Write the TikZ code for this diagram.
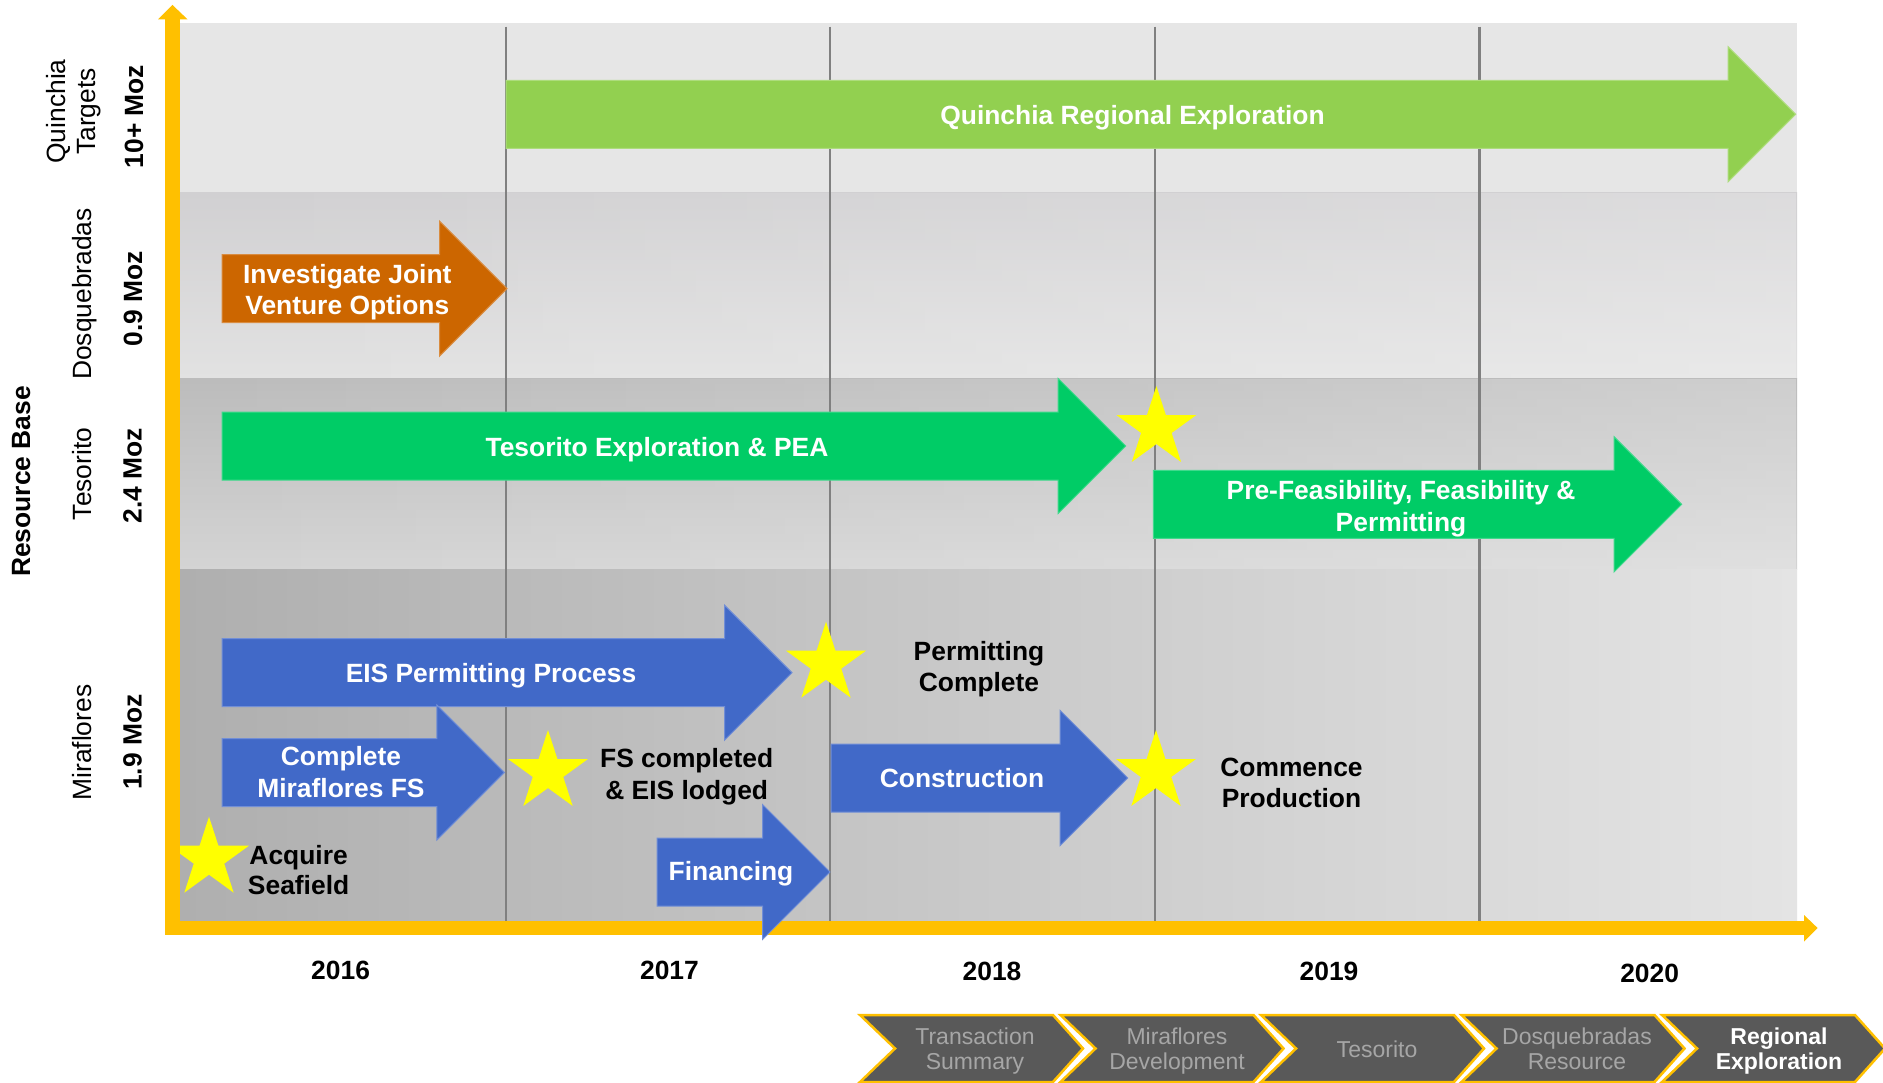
\documentclass[tikz,border=0pt]{standalone}
\usepackage{fontspec}
\setmainfont{Liberation Sans}
\usetikzlibrary{fadings}

\definecolor{axisyellow}{HTML}{FFC000}
\definecolor{gridgrey}{HTML}{808080}
\definecolor{rowq}{HTML}{E6E6E6}
\definecolor{rowdtop}{HTML}{D1D0D2}
\definecolor{rowdbot}{HTML}{E2E2E2}
\definecolor{rowttop}{HTML}{BCBCBC}
\definecolor{rowtbot}{HTML}{D4D4D4}
\definecolor{rowmleft}{HTML}{AFAFAF}
\definecolor{rowmright}{HTML}{E4E4E4}
\definecolor{qgreen}{HTML}{92D050}
\definecolor{tgreen}{HTML}{00CC66}
\definecolor{dorange}{HTML}{CC6600}
\definecolor{mblue}{HTML}{4169C8}
\definecolor{staryellow}{HTML}{FFFF00}
\definecolor{chevfill}{HTML}{595959}
\definecolor{chevtext}{HTML}{A6A6A6}

\tikzfading[name=brighten right, left color=transparent!100, right color=transparent!0]

% block arrow: x start, x of tip, y of centre line, colour
\newcommand\blockarrow[4]{%
  \fill[#4, draw=#4!75!white, line width=1pt]
    (#1,#3-34) -- (#2-67.5,#3-34) -- (#2-67.5,#3-67.5) -- (#2,#3)
    -- (#2-67.5,#3+67.5) -- (#2-67.5,#3+34) -- (#1,#3+34) -- cycle;}

% five-pointed milestone star: name, x, y of centre
\newcommand\milestar[3]{%
  \coordinate (#1) at (#2,#3);
  \fill[staryellow, shift={(#1)}]
    (canvas polar cs:angle=90,radius=42pt) -- (canvas polar cs:angle=126,radius=16.04pt)
    -- (canvas polar cs:angle=162,radius=42pt) -- (canvas polar cs:angle=198,radius=16.04pt)
    -- (canvas polar cs:angle=234,radius=42pt) -- (canvas polar cs:angle=270,radius=16.04pt)
    -- (canvas polar cs:angle=306,radius=42pt) -- (canvas polar cs:angle=342,radius=16.04pt)
    -- (canvas polar cs:angle=18,radius=42pt) -- (canvas polar cs:angle=54,radius=16.04pt)
    -- cycle;}

% chevron of the section bar: left x
\newcommand\chevron[1]{%
  \filldraw[chevfill, draw=axisyellow, line width=2.5pt, line join=miter]
    (#1,1015) -- (#1+193,1015) -- (#1+223,1048.5) -- (#1+193,1082)
    -- (#1,1082) -- (#1+35,1048.5) -- cycle;}

\begin{document}
\begin{tikzpicture}[x=1pt, y=-1pt,
  every node/.style={inner sep=0pt, outer sep=0pt},
  arrowtext/.style={font=\bfseries\fontsize{26.4}{31.7}\selectfont, text=white, anchor=base},
  notetext/.style={font=\bfseries\fontsize{26.4}{31.7}\selectfont, text=black, anchor=base},
  rowname/.style={font=\fontsize{26.4}{31.7}\selectfont, text=black, rotate=90, anchor=base},
  rowsize/.style={font=\bfseries\fontsize{26.4}{31.7}\selectfont, text=black, rotate=90, anchor=base},
  phasetext/.style={font=\fontsize{23}{25}\selectfont, text=chevtext, anchor=base},
  phasecurrent/.style={font=\bfseries\fontsize{23}{25}\selectfont, text=white, anchor=base},
  gridline/.style={draw=gridgrey, line width=2.5pt}]

\useasboundingbox[fill=white] (0,0) rectangle (1883,1083);

% ---- row bands ----
\fill[rowq] (180,22.7) rectangle (1797,192.7);
\shade[top color=rowdtop, bottom color=rowdbot] (180,192.7) rectangle (1797,379);
\fill[white, path fading=brighten right, fill opacity=0.25] (180,192.7) rectangle (1797,379);
\shade[top color=rowttop, bottom color=rowtbot] (180,379) rectangle (1797,569.5);
\fill[white, path fading=brighten right, fill opacity=0.28] (180,379) rectangle (1797,569.5);
\shade[left color=rowmleft, right color=rowmright] (180,569.5) rectangle (1797,921);

% ---- year dividers ----
\foreach \gx in {506,830,1155,1479.5}
  \draw[gridline] (\gx,26.7) -- (\gx,921);

% ---- milestones ----
\milestar{acquire}{209}{858.7}
\milestar{fsdone}{548}{772}
\milestar{permitdone}{826}{663.7}
\milestar{production}{1156}{772}
\milestar{pea}{1156.4}{428}

% ---- axes ----
\fill[axisyellow] (165,19.3) rectangle (180,935);
\fill[axisyellow] (165,921) rectangle (1804,935);
\fill[axisyellow] (158,19.3) -- (172.5,5) -- (187.5,19.3) -- cycle;
\fill[axisyellow] (1804,915) -- (1817.6,928) -- (1804,941.7) -- cycle;

% ---- activity arrows ----
\blockarrow{506}{1795.6}{114.3}{qgreen}
\blockarrow{222}{507}{288.7}{dorange}
\blockarrow{222}{1125.7}{446}{tgreen}
\blockarrow{1153.4}{1681.7}{504.3}{tgreen}
\blockarrow{222}{792}{672.7}{mblue}
\blockarrow{222}{504.4}{772.5}{mblue}
\blockarrow{831}{1127.7}{778}{mblue}
\blockarrow{657}{830}{872}{mblue}

% ---- arrow labels ----
\node[arrowtext] (quinchia) at (1132.5,125) {Quinchia Regional Exploration};
\node[arrowtext] (jv1) at (347.3,283.3) {Investigate Joint};
\node[arrowtext] (jv2) at (347.3,315) {Venture Options};
\node[arrowtext] (tespea) at (657,456) {Tesorito Exploration \& PEA};
\node[arrowtext] (pfs1) at (1401,499.7) {Pre-Feasibility, Feasibility \&};
\node[arrowtext] (pfs2) at (1401,531.4) {Permitting};
\node[arrowtext] (eis) at (491,682.9) {EIS Permitting Process};
\node[arrowtext] (mfs1) at (341,765.7) {Complete};
\node[arrowtext] (mfs2) at (341,797.9) {Miraflores FS};
\node[arrowtext] (constr) at (962,787.7) {Construction};
\node[arrowtext] (finance) at (731,880.7) {Financing};

% ---- milestone labels ----
\node[notetext] (acq1) at (298.6,864.3) {Acquire};
\node[notetext] (acq2) at (298.6,894.5) {Seafield};
\node[notetext] (fsl1) at (686.7,767.3) {FS completed};
\node[notetext] (fsl2) at (686.7,799.3) {\& EIS lodged};
\node[notetext] (pc1) at (979,660.7) {Permitting};
\node[notetext] (pc2) at (979,691.7) {Complete};
\node[notetext] (cp1) at (1291.5,776.4) {Commence};
\node[notetext] (cp2) at (1291.5,807) {Production};

% ---- years ----
\node[notetext] (y2016) at (340.6,979) {2016};
\node[notetext] (y2017) at (669.5,979) {2017};
\node[notetext] (y2018) at (992,980) {2018};
\node[notetext] (y2019) at (1329,980) {2019};
\node[notetext] (y2020) at (1649.6,982) {2020};

% ---- resource base labels ----
\node[rowsize] (resbase) at (30,481.5) {Resource Base};
\node[rowname] (qn1) at (65,111.5) {Quinchia};
\node[rowname] (qn2) at (95,111.5) {Targets};
\node[rowsize] (qmoz) at (143,116.5) {10+ Moz};
\node[rowname] (dname) at (91.7,294) {Dosquebradas};
\node[rowsize] (dmoz) at (142,299) {0.9 Moz};
\node[rowname] (tname) at (91.7,474) {Tesorito};
\node[rowsize] (tmoz) at (141.5,476) {2.4 Moz};
\node[rowname] (mname) at (91.7,742.6) {Miraflores};
\node[rowsize] (mmoz) at (141.5,742) {1.9 Moz};

% ---- section bar ----
\chevron{860}
\chevron{1060.5}
\chevron{1261}
\chevron{1461.5}
\chevron{1662}
\node[phasetext] (ph1a) at (975,1044.5) {Transaction};
\node[phasetext] (ph1b) at (975,1069.5) {Summary};
\node[phasetext] (ph2a) at (1177,1044.5) {Miraflores};
\node[phasetext] (ph2b) at (1177,1069.5) {Development};
\node[phasetext] (ph3) at (1377,1057) {Tesorito};
\node[phasetext] (ph4a) at (1577,1044.5) {Dosquebradas};
\node[phasetext] (ph4b) at (1577,1069.5) {Resource};
\node[phasecurrent] (ph5a) at (1779,1044.5) {Regional};
\node[phasecurrent] (ph5b) at (1779,1069.5) {Exploration};

\end{tikzpicture}
\end{document}
